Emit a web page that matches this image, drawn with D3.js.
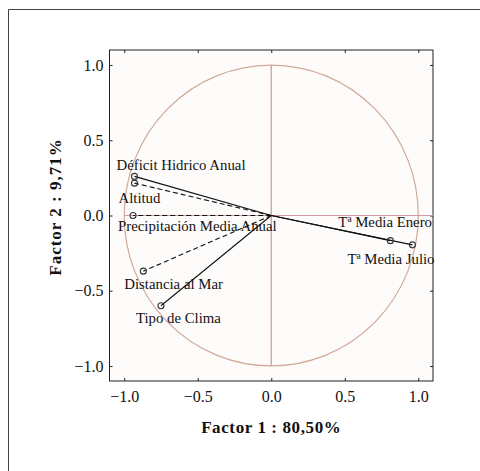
<!DOCTYPE html>
<html><head><meta charset="utf-8">
<script src="https://cdn.jsdelivr.net/npm/d3@7"></script>
<style>body{margin:0;background:#fff}svg{display:block}</style>
</head><body>
<svg id="c" width="480" height="471"></svg>
<script>
const variables = ["Déficit Hidrico Anual","Altitud","Precipitación Media Anual","Distancia al Mar","Tipo de Clima","Tª Media Enero","Tª Media Julio"];
const factor1 = [-0.93,-0.93,-0.94,-0.87,-0.75,0.81,0.96];
const factor2 = [0.26,0.215,0.0,-0.37,-0.60,-0.167,-0.195];
const dashed = [false,true,true,true,false,false,false];
const tickValues = [-1.0,-0.5,0.0,0.5,1.0];
const xTitle = "Factor 1 : 80,50%";
const yTitle = "Factor 2 : 9,71%";
const labelOffsets = [[-18,-6],[-16,20],[-15,15],[-19,18],[-25,17],[-52,-14],[-65,19]];

const svg = d3.select("#c");
const L=109.5,R=433,T=50,B=381;
const x = d3.scaleLinear().domain([-1.1,1.1]).range([L,R]);
const y = d3.scaleLinear().domain([-1.1,1.1]).range([B,T]);
const font = "'Liberation Serif','Times New Roman',serif";

// outer frame
svg.append("line").attr("x1",8.5).attr("x2",8.5).attr("y1",9.5).attr("y2",471).attr("stroke","#444").attr("stroke-width",1);
svg.append("line").attr("x1",8.5).attr("x2",480).attr("y1",9.5).attr("y2",9.5).attr("stroke","#444").attr("stroke-width",1);

// plot box
svg.append("rect").attr("x",L).attr("y",T).attr("width",R-L).attr("height",B-T).attr("fill","#fdfcfb").attr("stroke","#222").attr("stroke-width",1);

// axes (ticks inside)
const fmt = d3.format(".1f");
const ax = svg.append("g").attr("transform",`translate(0,${B})`).call(d3.axisBottom(x).tickValues(tickValues).tickFormat(fmt).tickSizeInner(-3).tickSizeOuter(0).tickPadding(10));
const ay = svg.append("g").attr("transform",`translate(${L},0)`).call(d3.axisLeft(y).tickValues(tickValues).tickFormat(fmt).tickSizeInner(-3).tickSizeOuter(0).tickPadding(6));
const at = svg.append("g").attr("transform",`translate(0,${T})`).call(d3.axisTop(x).tickValues(tickValues).tickFormat("").tickSizeInner(-3).tickSizeOuter(0));
const ar = svg.append("g").attr("transform",`translate(${R},0)`).call(d3.axisRight(y).tickValues(tickValues).tickFormat("").tickSizeInner(-3).tickSizeOuter(0));
[ax,ay,at,ar].forEach(g=>{g.attr("font-size",null).attr("font-family",null);g.select(".domain").remove();g.selectAll("line").attr("stroke","#222");g.selectAll("text").style("font-family",font).style("font-size","16px").attr("fill","#111");});

// unit circle and reference lines
const circ = "#d3a898";
svg.append("ellipse").attr("cx",x(0)).attr("cy",y(0)).attr("rx",x(1)-x(0)).attr("ry",y(0)-y(1)).attr("fill","none").attr("stroke",circ).attr("stroke-width",1.2);
svg.append("line").attr("x1",x(0)).attr("x2",x(0)).attr("y1",y(1)).attr("y2",y(-1)).attr("stroke","#c99a9a").attr("stroke-width",1.2);
svg.append("line").attr("x1",x(-1)).attr("x2",x(1.1)).attr("y1",y(0)).attr("y2",y(0)).attr("stroke","#d49aa6").attr("stroke-width",1.2);

// vectors
variables.forEach((v,i)=>{
  svg.append("line").attr("x1",x(0)).attr("y1",y(0)).attr("x2",x(factor1[i])).attr("y2",y(factor2[i]))
    .attr("stroke","#111").attr("stroke-width",1.1).attr("stroke-dasharray",dashed[i]?"5,3":null);
});
variables.forEach((v,i)=>{
  svg.append("circle").attr("cx",x(factor1[i])).attr("cy",y(factor2[i])).attr("r",3).attr("fill","none").attr("stroke","#333").attr("stroke-width",1.1);
  svg.append("text").attr("x",x(factor1[i])+labelOffsets[i][0]).attr("y",y(factor2[i])+labelOffsets[i][1])
    .style("font-family",font).style("font-size","14.8px").attr("fill","#111").text(v);
});

// titles
svg.append("text").attr("x",x(0)).attr("y",433).attr("text-anchor","middle").style("font-family",font).attr("font-weight","bold").style("font-size","17px").style("letter-spacing","0.6px").attr("fill","#111").text(xTitle);
svg.append("text").attr("transform",`translate(61,207) rotate(-90)`).attr("text-anchor","middle").style("font-family",font).attr("font-weight","bold").style("font-size","17px").style("letter-spacing","1px").attr("fill","#111").text(yTitle);
</script>
</body></html>
